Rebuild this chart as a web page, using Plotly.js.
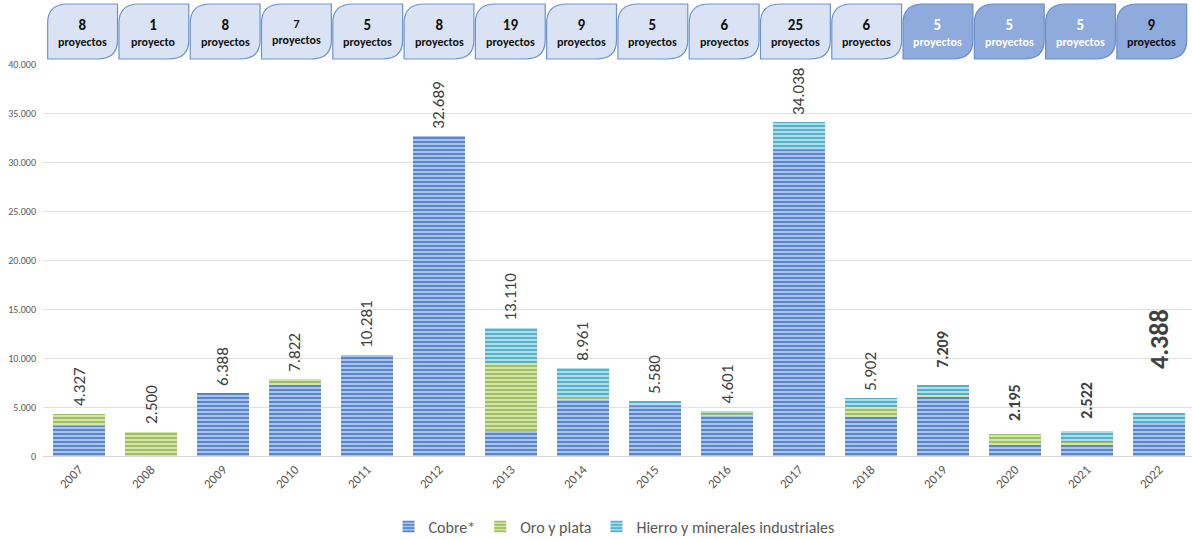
<!DOCTYPE html>
<html>
<head>
<meta charset="utf-8">
<script src="https://cdn.plot.ly/plotly-3.0.1.min.js"></script>
<style>
  html, body { margin: 0; padding: 0; background: #ffffff; }
  #chart { width: 1192px; height: 540px; }
</style>
</head>
<body>
<div id="chart"></div>
<script>
// ---- Data ----
const years = ['2007','2008','2009','2010','2011','2012','2013','2014','2015','2016','2017','2018','2019','2020','2021','2022'];
const cobre  = [3100,    0, 6388, 7200, 10281, 32689, 2600, 5700, 5100, 4100, 31200, 4000, 6050, 1100, 1150, 3330];
const oro    = [1227, 2500,    0,  622,     0,     0, 6850,  300,    0,  220,     0, 1000,  200, 1095,  270,    0];
const hierro = [   0,    0,    0,    0,     0,     0, 3660, 2961,  480,  281,  2838,  902,  959,    0, 1102, 1058];
const totals = [4327, 2500, 6388, 7822, 10281, 32689, 13110, 8961, 5580, 4601, 34038, 5902, 7209, 2195, 2522, 4388];
const projectCounts = [8, 1, 8, 7, 5, 8, 19, 9, 5, 6, 25, 6, 5, 5, 5, 9];
const seriesNames = ['Cobre*', 'Oro y plata', 'Hierro y minerales industriales'];
const yTicks = [0, 5000, 10000, 15000, 20000, 25000, 30000, 35000, 40000];

// ---- Styles ----
const FONT = 'Carlito, Lato, "Open Sans", sans-serif';
const seriesStyle = [
  {bg: '#a9c3ec', fg: '#4e7fc9'},
  {bg: '#d3e4ab', fg: '#9bbb59'},
  {bg: '#aadcea', fg: '#4bacc6'}
];
const labelStyle = {
  '2019': {size: 16, bold: true, shift: 15},
  '2020': {size: 16, bold: true, shift: 11},
  '2021': {size: 16, bold: true, shift: 10},
  '2022': {size: 26, bold: true, shift: 42}
};
const darkBoxes = {'2019': '#ffffff', '2020': '#ffffff', '2021': '#ffffff', '2022': '#111111'};
const boxNumberSize = {'2010': 12};

function fmt(n) {
  return String(n).replace(/\B(?=(\d{3})+(?!\d))/g, '.');
}

const seriesValues = [cobre, oro, hierro];
const traces = seriesValues.map((vals, k) => ({
  type: 'bar',
  name: seriesNames[k],
  x: years,
  y: vals,
  marker: {
    color: seriesStyle[k].bg,
    line: {width: 0},
    pattern: {shape: '-', fillmode: 'replace', bgcolor: seriesStyle[k].bg, fgcolor: seriesStyle[k].fg, size: 4, solidity: 0.45}
  },
  hoverinfo: 'skip'
}));

const annotations = [];
const shapes = [];

// total labels (x given as category index)
years.forEach((yr, i) => {
  const st = labelStyle[yr] || {size: 17, bold: false, shift: 5};
  annotations.push({
    x: i, y: totals[i], xref: 'x', yref: 'y',
    text: st.bold ? '<b>' + fmt(totals[i]) + '</b>' : fmt(totals[i]),
    textangle: -90, showarrow: false,
    xanchor: 'center', yanchor: 'bottom', yshift: st.shift,
    font: {family: FONT, size: st.size, color: '#404040'}
  });
});

// project boxes
const rx = 0.28, ry = 19, yb = 5, yt = 60, half = 0.485;
years.forEach((yr, i) => {
  const c = i * 0.99 + 0.05;
  const xl = c - half, xr = c + half;
  const dark = darkBoxes[yr] !== undefined;
  shapes.push({
    type: 'path', xref: 'x', yref: 'paper', ysizemode: 'pixel', yanchor: 1,
    path: `M ${xl},${yb} L ${xl},${yt - ry} Q ${xl},${yt} ${xl + rx},${yt} L ${xr},${yt} L ${xr},${yb + ry} Q ${xr},${yb} ${xr - rx},${yb} Z`,
    fillcolor: dark ? '#8faadc' : '#dae3f3',
    line: {color: dark ? '#6a8cc8' : '#6f93cf', width: 1.2},
    layer: 'above'
  });
  const word = projectCounts[i] === 1 ? 'proyecto' : 'proyectos';
  const nsz = boxNumberSize[yr] || 15;
  annotations.push({
    x: c, xref: 'x', y: 1, yref: 'paper', yshift: 32,
    text: `<b><span style="font-size:${nsz}px">${projectCounts[i]}</span><br>${word}</b>`,
    showarrow: false, xanchor: 'center', yanchor: 'middle',
    font: {family: FONT, size: 12, color: dark ? darkBoxes[yr] : '#111111'}
  });
});

const layout = {
  width: 1192, height: 540,
  margin: {l: 43, r: 0, t: 64, b: 84, autoexpand: false},
  paper_bgcolor: '#ffffff', plot_bgcolor: '#ffffff',
  separators: ',.',
  barmode: 'stack',
  bargap: 0.29,
  showlegend: true,
  legend: {
    orientation: 'h', x: 0.497, xanchor: 'center', y: -0.18, yanchor: 'middle',
    font: {family: FONT, size: 16, color: '#595959'},
    itemwidth: 30, traceorder: 'normal'
  },
  xaxis: {
    type: 'category',
    range: [-0.5, 15.458],
    tickangle: -45,
    tickfont: {family: FONT, size: 13, color: '#595959'},
    showgrid: false,
    showline: true, linecolor: '#d9d9d9', linewidth: 1,
    ticks: '', fixedrange: true
  },
  yaxis: {
    range: [0, 40000],
    tickvals: yTicks,
    tickformat: ',d',
    tickfont: {family: FONT, size: 10, color: '#595959'},
    showgrid: true, gridcolor: '#e0e0e0', gridwidth: 1,
    zeroline: false, showline: false, ticks: '',
    ticklabelstandoff: 6,
    fixedrange: true
  },
  shapes: shapes,
  annotations: annotations
};

Plotly.newPlot('chart', traces, layout, {displayModeBar: false, staticPlot: true});
</script>
</body>
</html>
